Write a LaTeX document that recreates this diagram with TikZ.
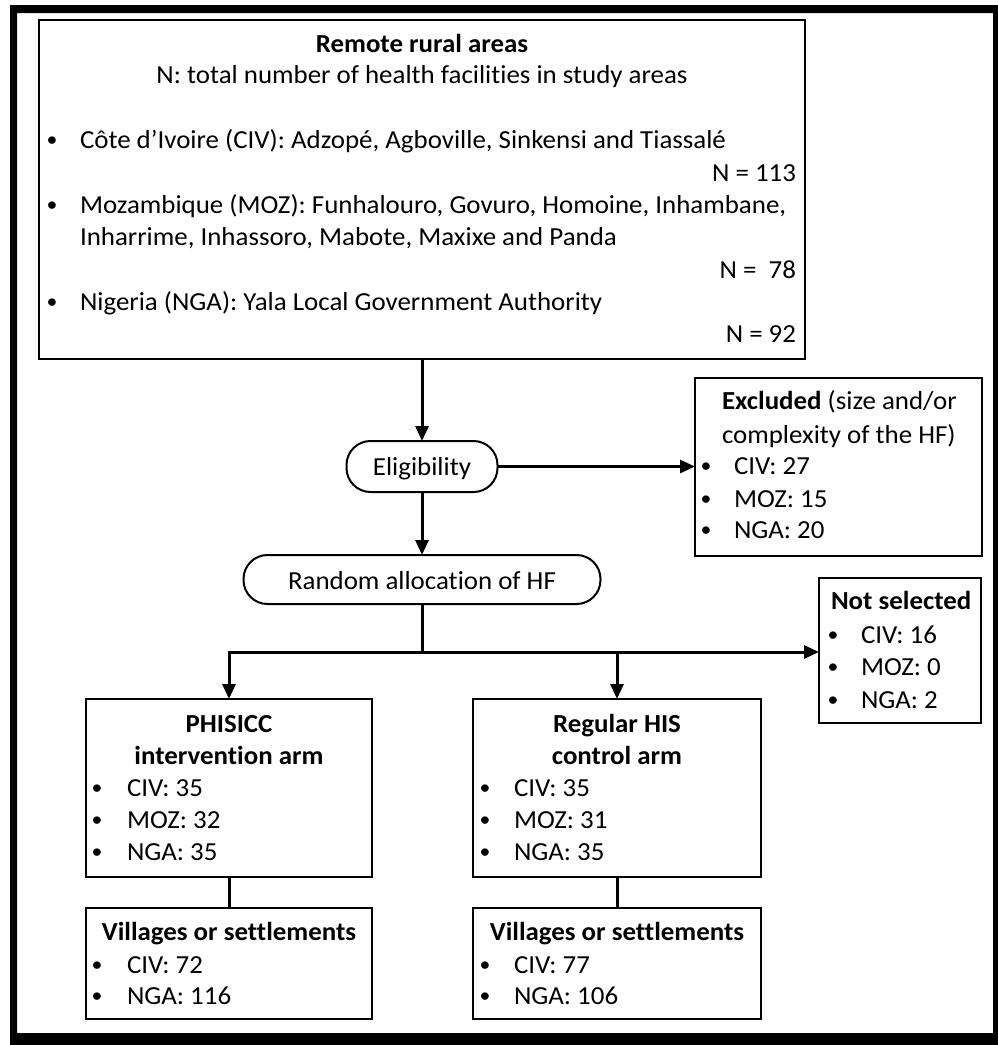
\documentclass[tikz,border=0pt]{standalone}
\usepackage{fontspec}
\setmainfont{Carlito}[FakeStretch=1.035, Ligatures=NoCommon]
\usetikzlibrary{arrows.meta}
\begin{document}
\begin{tikzpicture}[x=1pt,y=-1pt,
  every node/.style={font=\fontsize{26pt}{30pt}\selectfont, inner sep=0pt, outer sep=0pt},
  box/.style={draw, line width=2pt},
  pill/.style={draw, line width=2pt, rounded corners=24pt, text height=17pt, text depth=0pt},
  txt/.style={anchor=base west},
  ctxt/.style={anchor=base},
  rtxt/.style={anchor=base east},
  bul/.style={anchor=base, font=\fontsize{21pt}{24pt}\selectfont, yshift=1.5pt},
  conn/.style={line width=3pt},
  arr/.style={line width=3pt, -{Triangle[width=13pt,length=15pt]}}
]
\useasboundingbox (0,0) rectangle (998,1045);
\fill[even odd rule] (10,5) rectangle (998,1045) (17,13) rectangle (993,1033);

% boxes
\node[box, minimum width=766pt, minimum height=339pt] (top) at (422,189.5) {};
\node[pill, minimum width=151pt, minimum height=51pt] (elig) at (422,466.5) {Eligibility};
\node[box, minimum width=287pt, minimum height=178pt] (excl) at (838.5,467) {};
\node[pill, minimum width=357pt, minimum height=49pt, text height=19pt] (rand) at (422,579.5) {Random allocation of HF};
\node[box, minimum width=162pt, minimum height=145pt] (notsel) at (900,650.5) {};
\node[box, minimum width=286pt, minimum height=178pt] (phis) at (229,788) {};
\node[box, minimum width=288pt, minimum height=178pt] (reg) at (617,788) {};
\node[box, minimum width=286pt, minimum height=111pt] (vil1) at (229,963.5) {};
\node[box, minimum width=288pt, minimum height=111pt] (vil2) at (617,963.5) {};

% top box text
\node[ctxt] (t1) at (422,52) {\textbf{Remote rural areas}};
\node[ctxt] (t2) at (422,83) {N: total number of health facilities in study areas};
\node[bul] (b1) at (52,148) {•};
\node[txt] (c1) at (80,148) {Côte d’Ivoire (CIV): Adzopé, Agboville, Sinkensi and Tiassalé};
\node[rtxt] (n1) at (796,181) {N = 113};
\node[bul] (b2) at (52,213) {•};
\node[txt] (c2) at (80,213) {Mozambique (MOZ): Funhalouro, Govuro, Homoine, Inhambane,};
\node[txt] (c2b) at (80,245) {Inharrime, Inhassoro, Mabote, Maxixe and Panda};
\node[rtxt] (n2) at (796,278) {N =\ \ 78};
\node[bul] (b3) at (52,310) {•};
\node[txt] (c3) at (80,310) {Nigeria (NGA): Yala Local Government Authority};
\node[rtxt] (n3) at (796,342) {N = 92};

% excluded text
\node[txt] (e1) at (722,409) {\textbf{Excluded} (size and/or};
\node[txt] (e2) at (722,443) {complexity of the HF)};
\node[bul] (eb1) at (706,474) {•};
\node[txt] (ei1) at (734,474) {CIV: 27};
\node[bul] (eb2) at (706,507) {•};
\node[txt] (ei2) at (734,507) {MOZ: 15};
\node[bul] (eb3) at (706,538) {•};
\node[txt] (ei3) at (734,538) {NGA: 20};

% not selected text
\node[txt] (s1) at (831,609) {\textbf{Not selected}};
\node[bul] (sb1) at (833,643) {•};
\node[txt] (si1) at (861,643) {CIV: 16};
\node[bul] (sb2) at (833,675) {•};
\node[txt] (si2) at (861,675) {MOZ: 0};
\node[bul] (sb3) at (833,708) {•};
\node[txt] (si3) at (861,708) {NGA: 2};

% PHISICC arm
\node[ctxt] (p1) at (229,732) {\textbf{PHISICC}};
\node[ctxt] (p2) at (229,764) {\textbf{intervention arm}};
\node[bul] (pb1) at (97,796) {•};
\node[txt] (pi1) at (127,796) {CIV: 35};
\node[bul] (pb2) at (97,828) {•};
\node[txt] (pi2) at (127,828) {MOZ: 32};
\node[bul] (pb3) at (97,860) {•};
\node[txt] (pi3) at (127,860) {NGA: 35};

% Regular arm
\node[ctxt] (r1) at (617,732) {\textbf{Regular HIS}};
\node[ctxt] (r2) at (617,764) {\textbf{control arm}};
\node[bul] (rb1) at (485,796) {•};
\node[txt] (ri1) at (514,796) {CIV: 35};
\node[bul] (rb2) at (485,828) {•};
\node[txt] (ri2) at (514,828) {MOZ: 31};
\node[bul] (rb3) at (485,860) {•};
\node[txt] (ri3) at (514,860) {NGA: 35};

% villages
\node[ctxt] (v1) at (229,940) {\textbf{Villages or settlements}};
\node[bul] (vb1) at (97,973) {•};
\node[txt] (vi1) at (127,973) {CIV: 72};
\node[bul] (vb2) at (97,1004) {•};
\node[txt] (vi2) at (127,1004) {NGA: 116};
\node[ctxt] (w1) at (617,940) {\textbf{Villages or settlements}};
\node[bul] (wb1) at (485,973) {•};
\node[txt] (wi1) at (514,973) {CIV: 77};
\node[bul] (wb2) at (485,1004) {•};
\node[txt] (wi2) at (514,1004) {NGA: 106};

% connectors
\coordinate (j) at (422,652);
\draw[arr] (top.south -| elig) -- (elig.north);
\draw[arr] (elig.east) -- (elig.east -| excl.west);
\draw[arr] (elig.south) -- (rand.north);
\draw[conn] (rand.south) -- (j);
\draw[arr] (j) -| (phis.north);
\draw[arr] (j) -- (j -| notsel.west);
\draw[arr] (j -| reg.north) -- (reg.north);
\draw[conn] (phis.south) -- (vil1.north);
\draw[conn] (reg.south) -- (vil2.north);
\end{tikzpicture}
\end{document}
